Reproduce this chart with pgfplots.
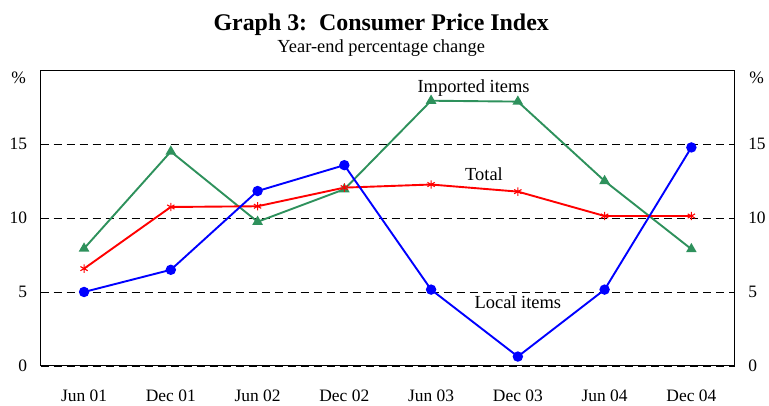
\documentclass[border=0pt]{standalone}
\usepackage{pgfplots}
\pgfplotsset{compat=1.18}
\usepackage{fontspec}
\setmainfont{Liberation Serif}
\definecolor{impgreen}{RGB}{46,145,92}
\begin{document}
\begin{tikzpicture}
\begin{axis}[
  scale only axis,
  width=694.3bp, height=295.7bp,
  xmin=-0.5, xmax=7.5, ymin=0, ymax=20,
  xtick={0,1,2,3,4,5,6,7},
  xticklabels={Jun 01,Dec 01,Jun 02,Dec 02,Jun 03,Dec 03,Jun 04,Dec 04},
  ytick={0,5,10,15},
  major tick length=0pt,
  ymajorgrids,
  grid style={black, line width=0.7bp, dash pattern=on 8bp off 5bp},
  axis line style={line width=0.9bp},
  tick label style={font=\fontsize{17.5}{20}\selectfont},
  /pgf/number format/assume math mode=true,
  xticklabel style={yshift=-21bp},
  yticklabel style={xshift=-10bp},
  clip=false,
]
\addplot[impgreen, line width=1.9bp, mark=triangle*, mark size=4.3bp] coordinates {
(0,7.94) (1,14.5) (2,9.75) (3,11.95) (4,17.94) (5,17.88) (6,12.51) (7,7.9)};
\addplot[red, line width=1.9bp, mark=asterisk, mark size=4.2bp, mark options={line width=1.1bp}] coordinates {
(0,6.58) (1,10.75) (2,10.8) (3,12.06) (4,12.27) (5,11.79) (6,10.14) (7,10.14)};
\addplot[blue, line width=1.9bp, mark=*, mark size=4.2bp] coordinates {
(0,5.0) (1,6.5) (2,11.83) (3,13.58) (4,5.16) (5,0.63) (6,5.16) (7,14.78)};
\node[font=\fontsize{18.5}{20}\selectfont] at (axis cs:4.49,18.82) {Imported items};
\node[font=\fontsize{18.5}{20}\selectfont] at (axis cs:4.61,12.95) {Total};
\node[font=\fontsize{18.5}{20}\selectfont] at (axis cs:5.0,4.3) {Local items};
\node[font=\fontsize{17.5}{20}\selectfont, anchor=north] at ([shift={(-22bp,2bp)}]rel axis cs:0,1) {\%};
\node[font=\fontsize{17.5}{20}\selectfont, anchor=north] at ([shift={(22bp,2bp)}]rel axis cs:1,1) {\%};
\node[font=\bfseries\fontsize{24}{28}\selectfont] at ([shift={(-6.5bp,46bp)}]rel axis cs:0.5,1) {Graph 3:\ \ Consumer Price Index};
\node[font=\fontsize{18.5}{20}\selectfont] at ([shift={(-6.5bp,22bp)}]rel axis cs:0.5,1) {Year-end percentage change};
\path ([shift={(-40.7bp,-40bp)}]rel axis cs:0,0) rectangle ([shift={(34bp,70.3bp)}]rel axis cs:1,1);
\end{axis}
\begin{axis}[
  scale only axis,
  width=694.3bp, height=295.7bp,
  xmin=-0.5, xmax=7.5, ymin=0, ymax=20,
  hide x axis,
  axis y line*=right,
  axis line style={draw=none},
  ytick={0,5,10,15},
  major tick length=0pt,
  tick label style={font=\fontsize{17.5}{20}\selectfont},
  /pgf/number format/assume math mode=true,
  yticklabel style={xshift=10bp},
]
\end{axis}
\end{tikzpicture}
\end{document}
